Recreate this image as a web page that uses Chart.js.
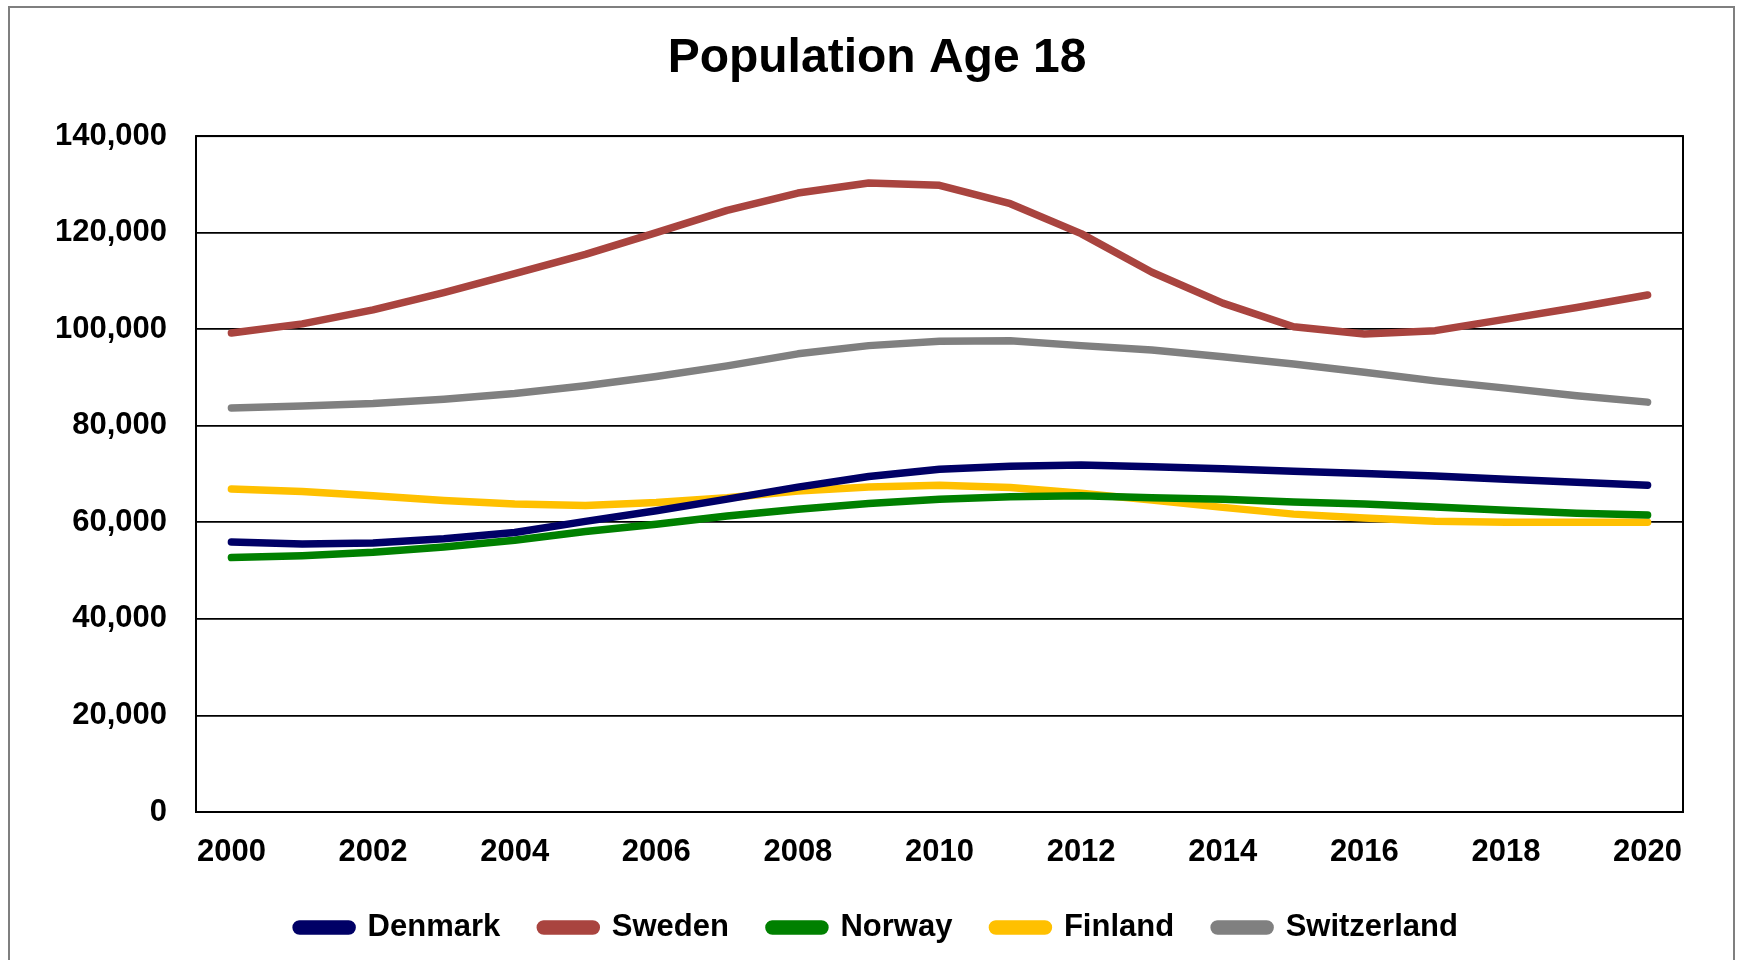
<!DOCTYPE html>
<html>
<head>
<meta charset="utf-8">
<script src="https://cdn.jsdelivr.net/npm/chart.js@4.4.1/dist/chart.umd.min.js"></script>
<style>
  html, body { margin: 0; padding: 0; background: #fff; overflow: hidden; }
  #wrap { position: relative; width: 1737px; height: 960px; }
  #frame { position: absolute; left: 8px; top: 6px; width: 1727px; height: 1000px; border: 2px solid #7f7f7f; box-sizing: border-box; }
  canvas { position: absolute; left: 0; top: 0; }
</style>
</head>
<body>
<div id="wrap">
  <div id="frame"></div>
  <canvas id="cnvs_line" width="1737" height="960"></canvas>
</div>
<script>
// years 2000..2020
const years = ['2000','2001','2002','2003','2004','2005','2006','2007','2008','2009','2010',
               '2011','2012','2013','2014','2015','2016','2017','2018','2019','2020'];

const denmark = [55900, 55500, 55700, 56600, 57900, 60200, 62400, 64800, 67300, 69500, 71000,
                 71600, 71900, 71500, 71100, 70600, 70100, 69600, 68900, 68300, 67700];
const sweden = [99200, 101100, 104000, 107600, 111500, 115500, 120000, 124600, 128200, 130300, 129800,
                126000, 119800, 111800, 105400, 100500, 99000, 99700, 102100, 104500, 107100];
const norway = [52700, 53100, 53800, 54900, 56300, 58100, 59600, 61300, 62700, 63900, 64800,
                65300, 65500, 65100, 64800, 64200, 63800, 63200, 62500, 61900, 61500];
const finland = [66900, 66400, 65500, 64500, 63800, 63500, 64100, 65100, 66500, 67300, 67700,
                 67200, 66000, 64600, 63100, 61700, 60900, 60200, 60000, 60000, 60000];
const switzerland = [83700, 84100, 84600, 85500, 86700, 88300, 90200, 92400, 94900, 96600, 97500,
                     97600, 96600, 95700, 94300, 92800, 91100, 89300, 87800, 86200, 84900];

const seriesNames = ['Denmark', 'Sweden', 'Norway', 'Finland', 'Switzerland'];
const seriesColors = ['#000066', '#A9443F', '#008000', '#FFC000', '#808080'];
const seriesData = [denmark, sweden, norway, finland, switzerland];

Chart.defaults.font.family = '"Liberation Sans", Arial, sans-serif';
Chart.defaults.font.weight = 'bold';
Chart.defaults.color = '#000';

// black frame round the plot area
const plotBox = {
  id: 'plotBox',
  beforeDatasetsDraw(chart) {
    const {ctx, chartArea: a} = chart;
    ctx.save();
    ctx.strokeStyle = '#000';
    ctx.lineWidth = 2;
    ctx.strokeRect(a.left, a.top, a.right - a.left, a.bottom - a.top);
    ctx.restore();
  }
};

const datasets = seriesNames.map(function(name, i) {
  return {
    label: name,
    data: seriesData[i],
    borderColor: seriesColors[i],
    backgroundColor: seriesColors[i],
    borderWidth: 7.5,
    borderCapStyle: 'round',
    borderJoinStyle: 'round',
    pointRadius: 0,
    tension: 0,
    fill: false
  };
});

new Chart(document.getElementById('cnvs_line').getContext('2d'), {
  type: 'line',
  data: { labels: years, datasets: datasets },
  plugins: [plotBox],
  options: {
    responsive: false,
    animation: false,
    layout: { padding: { left: 17, right: 0, top: 0, bottom: 7 } },
    plugins: {
      title: {
        display: true,
        text: 'Population Age 18',
        font: { size: 48, weight: 'bold' },
        color: '#000',
        padding: { top: 30, bottom: 48.5 }
      },
      legend: {
        position: 'bottom',
        labels: {
          font: { size: 31, weight: 'bold' },
          color: '#000',
          boxWidth: 56,
          boxHeight: 7,
          useBorderRadius: true,
          borderRadius: 3.5,
          padding: 40
        }
      },
      tooltip: { enabled: false }
    },
    scales: {
      x: {
        offset: true,
        grid: { display: false, drawTicks: false },
        border: { display: false },
        ticks: {
          autoSkip: false,
          maxRotation: 0,
          padding: 22,
          font: { size: 31, weight: 'bold' },
          callback: function(val, i) { return i % 2 === 0 ? years[i] : ''; }
        },
        afterFit: function(s) { s.height = 60; }
      },
      y: {
        min: 0,
        max: 140000,
        grid: { color: '#000', lineWidth: 1.8, drawTicks: false },
        border: { display: false },
        ticks: {
          stepSize: 20000,
          padding: 29,
          font: { size: 31, weight: 'bold' },
          callback: function(v) { return v.toLocaleString('en-US'); }
        },
        afterFit: function(s) { s.width = 179; }
      },
      // empty right axis, only holds the space right of the plot
      yRight: {
        type: 'linear',
        position: 'right',
        min: 0,
        max: 140000,
        grid: { display: false, drawTicks: false },
        border: { display: false },
        ticks: { display: false },
        afterFit: function(s) { s.width = 54; }
      }
    }
  }
});
</script>
</body>
</html>
